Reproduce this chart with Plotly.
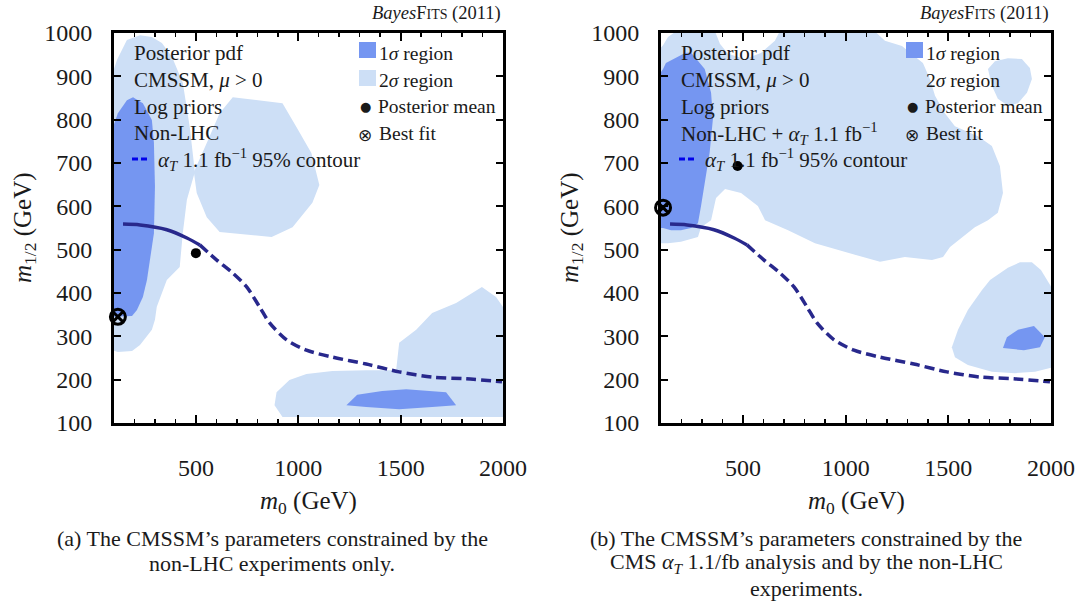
import plotly.graph_objects as go

W, H = 1087, 606

# ---------------- data ----------------
x_range = [100, 2000]
y_range = [100, 1000]
x_tick_vals = [500, 1000, 1500, 2000]
y_tick_vals = [100, 200, 300, 400, 500, 600, 700, 800, 900, 1000]

# CMS alpha_T 1.1 fb^-1 95% contour (same in both panels)
contour_m0 = [144, 227, 358, 456, 519, 602, 680, 748, 811, 860, 943, 1040, 1167, 1332, 1493, 1654, 1819, 1995]
contour_m12 = [559, 557, 546, 527, 511, 476, 446, 414, 368, 331, 292, 268, 252, 236, 218, 206, 202, 195]

# ---- panel (a): non-LHC ----
a_2s_left_m0 = [90, 115, 163, 227, 285, 334, 383, 436, 470, 495, 456, 436, 421, 358, 309, 300, 285, 227, 188, 119, 90]
a_2s_left_m12 = [903, 938, 984, 995, 991, 977, 945, 885, 783, 679, 615, 538, 460, 430, 368, 338, 315, 280, 266, 264, 268]
a_2s_mid_m0 = [680, 923, 991, 1064, 1103, 1069, 972, 870, 616, 553, 504, 490, 553, 616]
a_2s_mid_m12 = [852, 838, 783, 723, 649, 608, 552, 529, 541, 575, 631, 679, 746, 815]
a_2s_low_m0 = [923, 884, 894, 957, 1040, 1167, 1332, 1478, 1493, 1576, 1654, 1771, 1897, 1966, 2010, 2010]
a_2s_low_m12 = [114, 141, 171, 199, 213, 220, 222, 222, 285, 315, 354, 377, 414, 391, 361, 114]
a_1s_left_m0 = [90, 119, 163, 193, 241, 285, 295, 300, 295, 275, 261, 241, 212, 188, 119, 90]
a_1s_left_m12 = [776, 815, 845, 852, 838, 799, 746, 645, 538, 476, 430, 391, 361, 347, 345, 345]
a_1s_low_m0 = [1235, 1288, 1410, 1527, 1722, 1771, 1654, 1493, 1332]
a_1s_low_m12 = [141, 165, 174, 178, 171, 141, 137, 132, 137]
a_mean = (500, 492)
a_best = (119, 345)

# ---- panel (b): non-LHC + alpha_T 1.1/fb ----
b_2s_main_m0 = [90, 134, 197, 280, 295, 344, 368, 412, 490, 572, 607, 719, 850, 962, 1045, 1167, 1288, 1420,
                1474, 1508, 1566, 1629, 1693, 1741, 1766, 1751, 1712, 1644, 1532, 1483, 1435, 1410, 1376,
                1274, 1191, 1128, 685, 655, 587, 509, 426, 387, 358, 193, 134, 110, 90]
b_2s_main_m12 = [515, 515, 518, 529, 552, 568, 619, 640, 631, 601, 568, 545, 515, 499, 488, 472, 483, 476,
                 483, 506, 529, 552, 568, 585, 631, 693, 739, 762, 785, 815, 855, 894, 931,
                 970, 982, 1010, 1010, 982, 954, 940, 952, 975, 1010, 1010, 991, 972, 961]
b_2s_top_m0 = [1693, 1727, 1790, 1858, 1897, 1907, 1883, 1839, 1790, 1741, 1712]
b_2s_top_m12 = [917, 935, 942, 940, 919, 894, 862, 838, 832, 848, 878]
b_2s_low_m0 = [1951, 1907, 1849, 1790, 1703, 1664, 1595, 1547, 1517, 1532, 1595, 1712, 1824, 1922, 2010, 2010]
b_2s_low_m12 = [453, 471, 471, 458, 430, 407, 361, 315, 275, 252, 234, 218, 215, 218, 229, 407]
b_1s_left_m0 = [90, 110, 149, 197, 246, 280, 295, 313, 337, 353, 344, 313, 246, 217, 168, 124, 110, 90]
b_1s_left_m12 = [550, 550, 545, 545, 550, 561, 601, 655, 724, 802, 862, 917, 955, 954, 942, 931, 917, 903]
b_1s_low_m0 = [1766, 1785, 1839, 1917, 1970, 1946, 1868]
b_1s_low_m12 = [273, 298, 315, 324, 298, 275, 268]
b_mean = (473, 693)
b_best = (110, 597)

# ---------------- style ----------------
C1 = "rgb(117,150,241)"
C2 = "rgb(205,223,246)"
CLINE = "rgb(40,40,140)"
CLEG = "rgb(0,0,235)"
FONT = "Liberation Serif"
TXT = "#1a1a1a"

panels = [
    dict(left=114, right=503, top=33, bottom=423),
    dict(left=661, right=1051, top=33, bottom=423),
]

def px(xp):
    return xp / W

def py(yp):
    return 1 - yp / H

fig = go.Figure()

def add_fill(xs, ys, color, ax):
    fig.add_trace(go.Scatter(x=xs, y=ys, fill="toself", fillcolor=color, mode="lines",
                             line=dict(width=0, color=color), hoverinfo="skip",
                             xaxis=ax[0], yaxis=ax[1], showlegend=False))

split = 5  # solid part of the contour, then dashed
def add_contour(ax):
    fig.add_trace(go.Scatter(x=contour_m0[:split], y=contour_m12[:split], mode="lines",
                             line=dict(color=CLINE, width=3.5, shape="spline", smoothing=0.8),
                             xaxis=ax[0], yaxis=ax[1], showlegend=False, hoverinfo="skip"))
    fig.add_trace(go.Scatter(x=contour_m0[split - 1:], y=contour_m12[split - 1:], mode="lines",
                             line=dict(color=CLINE, width=3.5, dash="10px,5px", shape="spline", smoothing=0.8),
                             xaxis=ax[0], yaxis=ax[1], showlegend=False, hoverinfo="skip"))

def add_points(mean, best, ax):
    fig.add_trace(go.Scatter(x=[mean[0]], y=[mean[1]], mode="markers",
                             marker=dict(symbol="circle", size=10, color="black"),
                             xaxis=ax[0], yaxis=ax[1], showlegend=False, cliponaxis=False))
    fig.add_trace(go.Scatter(x=[best[0]], y=[best[1]], mode="markers",
                             marker=dict(symbol="circle-x-open", size=15, color="black",
                                         line=dict(width=3, color="black")),
                             xaxis=ax[0], yaxis=ax[1], showlegend=False, cliponaxis=False))

axA = ("x", "y")
axB = ("x2", "y2")

add_fill(a_2s_left_m0, a_2s_left_m12, C2, axA)
add_fill(a_2s_mid_m0, a_2s_mid_m12, C2, axA)
add_fill(a_2s_low_m0, a_2s_low_m12, C2, axA)
add_fill(a_1s_left_m0, a_1s_left_m12, C1, axA)
add_fill(a_1s_low_m0, a_1s_low_m12, C1, axA)
add_contour(axA)
add_points(a_mean, a_best, axA)

add_fill(b_2s_main_m0, b_2s_main_m12, C2, axB)
add_fill(b_2s_top_m0, b_2s_top_m12, C2, axB)
add_fill(b_2s_low_m0, b_2s_low_m12, C2, axB)
add_fill(b_1s_left_m0, b_1s_left_m12, C1, axB)
add_fill(b_1s_low_m0, b_1s_low_m12, C1, axB)
add_contour(axB)
add_points(b_mean, b_best, axB)

def xaxis_cfg(p):
    return dict(domain=[px(p["left"]), px(p["right"])], range=x_range, tickvals=x_tick_vals,
                ticks="inside", ticklen=8, tickwidth=2, tickcolor="black", mirror="allticks",
                showline=True, linewidth=3, linecolor="black", showgrid=False, zeroline=False,
                minor=dict(dtick=100, tick0=0, ticks="inside", ticklen=4, tickwidth=1.5, tickcolor="black"),
                tickfont=dict(family=FONT, size=24, color=TXT), ticklabelstandoff=21,
                automargin=False)

def yaxis_cfg(p):
    return dict(domain=[py(p["bottom"]), py(p["top"])], range=y_range, tickvals=y_tick_vals,
                ticks="inside", ticklen=7, tickwidth=2, tickcolor="black", mirror="allticks",
                showline=True, linewidth=3, linecolor="black", showgrid=False, zeroline=False,
                tickfont=dict(family=FONT, size=24, color=TXT), ticklabelstandoff=14,
                automargin=False)

annotations = []
shapes = []

def text(x, y, s, size=21, xanchor="left", yanchor="middle", angle=0, family=FONT):
    annotations.append(dict(x=px(x), y=py(y), xref="paper", yref="paper", text=s, showarrow=False,
                            xanchor=xanchor, yanchor=yanchor, textangle=angle,
                            font=dict(family=family, size=size, color=TXT)))

left_texts = [
    ["Posterior pdf", "CMSSM, <i>μ</i> > 0", "Log priors", "Non-LHC"],
    ["Posterior pdf", "CMSSM, <i>μ</i> > 0", "Log priors",
     "Non-LHC + <i>α</i><sub><i>T</i></sub> 1.1 fb<sup>−1</sup>"],
]
row_y = [53, 80, 107, 133, 159]
RT = 19.5  # right-column legend font

for i, p in enumerate(panels):
    L = p["left"]
    text(p["right"], 14, "<i>Bayes</i>F<span style='font-size:14px'>ITS</span> (2011)", size=18.5,
         xanchor="right")
    text(L - 90, 228, "<i>m</i><sub>1/2</sub> (GeV)", size=25, xanchor="center", angle=-90)
    text((L + p["right"]) / 2, 502, "<i>m</i><sub>0</sub> (GeV)", size=25, xanchor="center")
    for j, s in enumerate(left_texts[i]):
        text(L + 18, row_y[j], s)
    shapes.append(dict(type="line", xref="paper", yref="paper", x0=px(L + 18), x1=px(L + 35),
                       y0=py(row_y[4]), y1=py(row_y[4]), line=dict(color=CLEG, width=3, dash="6px,3px")))
    text(L + 42, row_y[4], "<i>α</i><sub><i>T</i></sub> 1.1 fb<sup>−1</sup> 95% contour")
    sx = L + 245
    shapes.append(dict(type="rect", xref="paper", yref="paper", x0=px(sx), x1=px(sx + 17),
                       y0=py(58), y1=py(42), fillcolor=C1, line=dict(width=0)))
    shapes.append(dict(type="rect", xref="paper", yref="paper", x0=px(sx), x1=px(sx + 17),
                       y0=py(86), y1=py(70), fillcolor=C2, line=dict(width=0)))
    text(sx + 18, row_y[0], "1<i>σ</i> region", size=RT)
    text(sx + 18, row_y[1], "2<i>σ</i> region", size=RT)
    text(sx + 6, row_y[2], "●", size=13, xanchor="center", family="DejaVu Sans")
    text(sx + 17, row_y[2], "Posterior mean", size=RT)
    text(sx + 6, row_y[3] + 2, "⊗", size=17, xanchor="center", family="DejaVu Sans")
    text(sx + 18, row_y[3], "Best fit", size=RT)

CAP = 22
text(272, 538, "(a) The CMSSM’s parameters constrained by the", size=CAP, xanchor="center")
text(272, 563, "non-LHC experiments only.", size=CAP, xanchor="center")
text(806, 538, "(b) The CMSSM’s parameters constrained by the", size=CAP, xanchor="center")
text(806, 563, "CMS <i>α</i><sub><i>T</i></sub> 1.1/fb analysis and by the non-LHC", size=CAP, xanchor="center")
text(806, 588, "experiments.", size=CAP, xanchor="center")

fig.update_layout(
    width=W, height=H, autosize=False, margin=dict(l=0, r=0, t=0, b=0, pad=0),
    paper_bgcolor="white", plot_bgcolor="white",
    xaxis=dict(xaxis_cfg(panels[0]), anchor="y"), yaxis=dict(yaxis_cfg(panels[0]), anchor="x"),
    xaxis2=dict(xaxis_cfg(panels[1]), anchor="y2"), yaxis2=dict(yaxis_cfg(panels[1]), anchor="x2"),
    annotations=annotations, shapes=shapes, showlegend=False,
    font=dict(family=FONT, color=TXT),
)

fig.write_html("out.html", config={"displayModeBar": False, "staticPlot": True},
               post_script="document.body.style.margin='0';document.body.style.overflow='hidden';")
